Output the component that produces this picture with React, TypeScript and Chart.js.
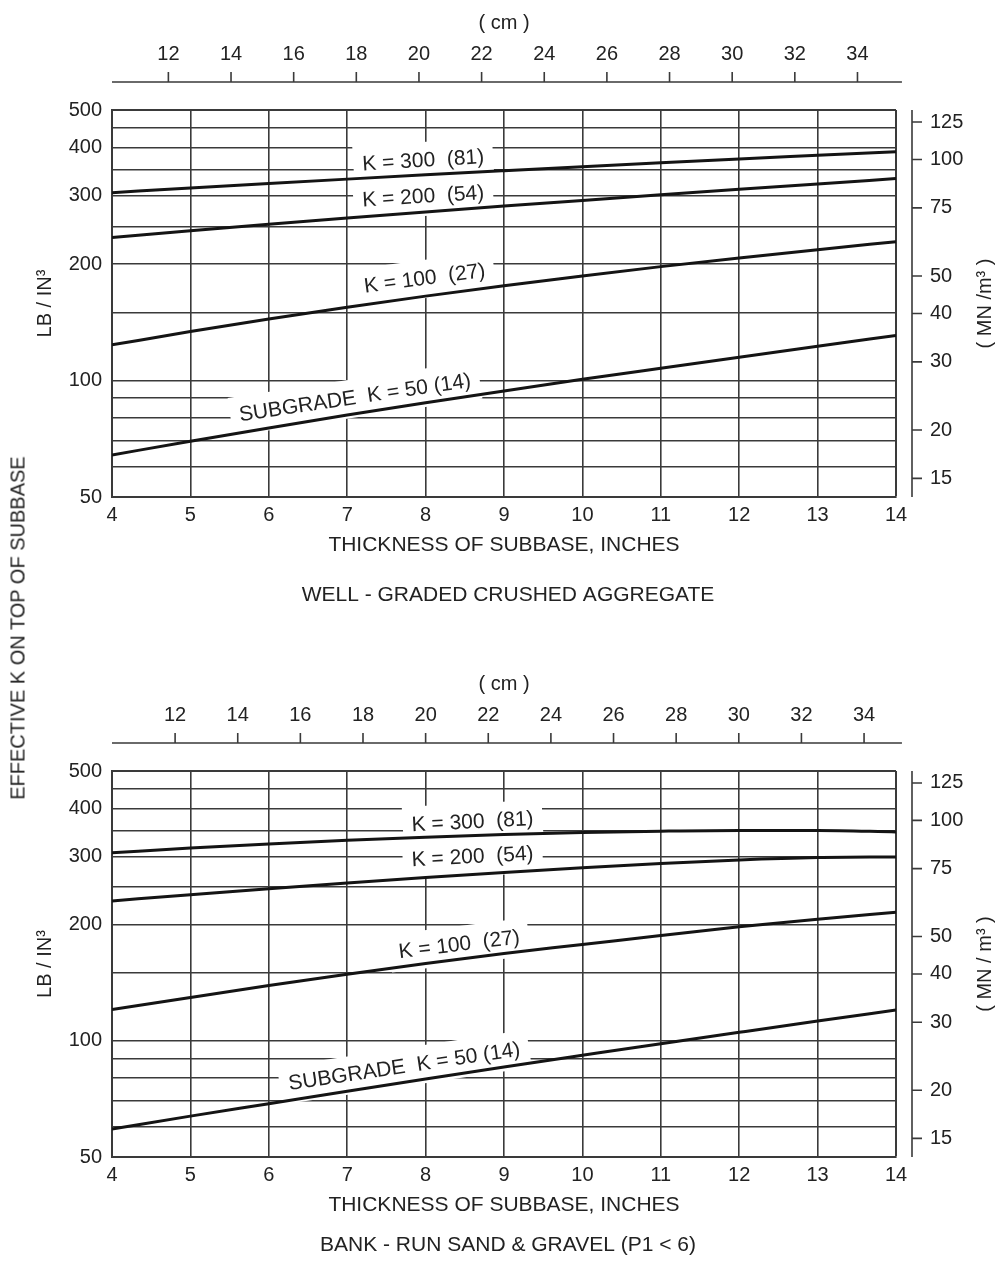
import React, { useEffect, useRef } from "react";
import { Chart, registerables } from "chart.js";

Chart.register(...registerables);

const FONT = "'Liberation Sans', Arial, Helvetica, sans-serif";
const INK = "#222";
const GRID = "#3a3a3a";
const CURVE = "#141414";

// ---- data ----
const thicknessIn = [4, 5, 6, 7, 8, 9, 10, 11, 12, 13, 14];

const wellK300 = [305.8, 314.3, 322.8, 331.4, 340.0, 348.4, 356.8, 365.2, 373.5, 381.8, 390.3];
const wellK200 = [234.0, 243.6, 253.2, 262.9, 272.6, 282.3, 292.0, 301.8, 311.8, 322.0, 332.4];
const wellK100 = [123.6, 133.8, 144.2, 154.7, 165.2, 175.8, 186.3, 196.9, 207.3, 217.8, 228.4];
const wellK50 = [64.2, 69.7, 75.4, 81.4, 87.6, 94.0, 100.7, 107.6, 114.9, 122.6, 130.7];

const bankK300 = [306.8, 315.7, 323.7, 330.7, 336.9, 342.2, 346.3, 349.2, 350.8, 350.8, 347.7];
const bankK200 = [230.4, 239.0, 247.8, 256.3, 264.7, 272.9, 280.8, 288.1, 294.2, 298.3, 299.5];
const bankK100 = [120.5, 129.5, 139.0, 148.8, 158.6, 168.4, 177.6, 187.5, 197.4, 206.6, 215.4];
const bankK50 = [59.1, 63.8, 68.7, 74.0, 79.6, 85.5, 91.7, 98.3, 105.2, 112.5, 120.1];

const curveNames = ["K = 300  (81)", "K = 200  (54)", "K = 100  (27)", "SUBGRADE  K = 50 (14)"];

const inchTicks = [4, 5, 6, 7, 8, 9, 10, 11, 12, 13, 14];
const cmTicks = [12, 14, 16, 18, 20, 22, 24, 26, 28, 30, 32, 34];
const lbTicks = [50, 60, 70, 80, 90, 100, 150, 200, 250, 300, 350, 400, 450, 500];
const lbLabels = [50, 100, 200, 300, 400, 500];
const mnTicks = [15, 20, 30, 40, 50, 75, 100, 125];
const MN_PER_PCI = 0.2685;

// label anchors (inches, lb/in3) and rotation (deg)
const wellLabelX = [7.97, 7.97, 7.99, 7.1];
const wellLabelY = [369, 298, 183, 90];
const wellLabelRot = [-3.5, -3.5, -7.5, -8.5];
const bankLabelX = [8.6, 8.6, 8.43, 7.73];
const bankLabelY = [368, 299, 177, 85.5];
const bankLabelRot = [-3, -3, -7, -8.5];

type PanelDef = {
  series: number[][];
  labelX: number[];
  labelY: number[];
  labelRot: number[];
  caption: string;
  rightTitle: string;
  cmMin: number;
  cmMax: number;
  cmEnd: number;
  height: number;
  plotTop: number;
  plotBottom: number;
  xTitlePad: number;
  cmTitlePad: number;
  captionY: number;
};

const well: PanelDef = {
  series: [wellK300, wellK200, wellK100, wellK50],
  labelX: wellLabelX,
  labelY: wellLabelY,
  labelRot: wellLabelRot,
  caption: "WELL - GRADED CRUSHED AGGREGATE",
  rightTitle: "( MN /m³ )",
  cmMin: 10.2,
  cmMax: 35.23,
  cmEnd: 35.42,
  height: 630,
  plotTop: 110,
  plotBottom: 497,
  xTitlePad: 72,
  cmTitlePad: 11,
  captionY: 595,
};

const bank: PanelDef = {
  series: [bankK300, bankK200, bankK100, bankK50],
  labelX: bankLabelX,
  labelY: bankLabelY,
  labelRot: bankLabelRot,
  caption: "BANK - RUN SAND & GRAVEL (P1 < 6)",
  rightTitle: "( MN / m³ )",
  cmMin: 9.985,
  cmMax: 35.02,
  cmEnd: 35.21,
  height: 634,
  plotTop: 141,
  plotBottom: 527,
  xTitlePad: 46,
  cmTitlePad: 42,
  captionY: 615,
};

const WIDTH = 997;
const PLOT_LEFT = 112;
const PLOT_RIGHT = 896;

function makeOverlay(p: PanelDef) {
  const drawLabels = (chart: any, mode: "bg" | "text") => {
    const { ctx } = chart;
    const xs = chart.scales.x;
    const ys = chart.scales.y;
    ctx.save();
    ctx.font = `21px ${FONT}`;
    curveNames.forEach((t, i) => {
      const px = xs.getPixelForValue(p.labelX[i]);
      const py = ys.getPixelForValue(p.labelY[i]);
      ctx.save();
      ctx.translate(px, py);
      ctx.rotate((p.labelRot[i] * Math.PI) / 180);
      if (mode === "bg") {
        const w = ctx.measureText(t).width;
        ctx.fillStyle = "#fff";
        ctx.fillRect(-w / 2 - 9, -19, w + 18, 38);
      } else {
        ctx.fillStyle = INK;
        ctx.textAlign = "center";
        ctx.textBaseline = "middle";
        ctx.fillText(t, 0, 0);
      }
      ctx.restore();
    });
    ctx.restore();
  };
  return {
    id: "overlay",
    beforeDatasetsDraw(chart: any) {
      drawLabels(chart, "bg");
    },
    afterDatasetsDraw(chart: any) {
      drawLabels(chart, "text");
    },
    afterDraw(chart: any) {
      const { ctx, chartArea } = chart;
      const xcm = chart.scales.xcm;
      const yr = chart.scales.yr;
      ctx.save();
      ctx.strokeStyle = GRID;
      ctx.lineWidth = 1.6;
      // cm axis line + ticks
      const yLine = chartArea.top - 28;
      ctx.beginPath();
      ctx.moveTo(xcm.getPixelForValue(p.cmMin), yLine);
      ctx.lineTo(xcm.getPixelForValue(p.cmEnd), yLine);
      cmTicks.forEach((c) => {
        const px = xcm.getPixelForValue(c);
        ctx.moveTo(px, yLine);
        ctx.lineTo(px, yLine - 10);
      });
      ctx.stroke();
      // right MN/m3 axis
      const xLine = chartArea.right + 16;
      ctx.beginPath();
      ctx.moveTo(xLine, chartArea.top);
      ctx.lineTo(xLine, chartArea.bottom);
      mnTicks.forEach((m) => {
        const py = yr.getPixelForValue(m);
        ctx.moveTo(xLine, py);
        ctx.lineTo(xLine + 10, py);
      });
      ctx.stroke();
      // right title
      ctx.fillStyle = INK;
      ctx.font = `20px ${FONT}`;
      ctx.textAlign = "center";
      ctx.textBaseline = "middle";
      ctx.save();
      ctx.translate(chartArea.right + 89, (chartArea.top + chartArea.bottom) / 2);
      ctx.rotate(-Math.PI / 2);
      ctx.fillText(p.rightTitle, 0, 0);
      ctx.restore();
      // caption
      ctx.font = `21px ${FONT}`;
      ctx.fillText(p.caption, (chartArea.left + chartArea.right) / 2 + 4, p.captionY);
      ctx.restore();
    },
  };
}

function makeConfig(p: PanelDef): any {
  const tickFont = { family: FONT, size: 20 };
  return {
    type: "line",
    data: {
      datasets: p.series.map((vals, i) => ({
        label: curveNames[i],
        data: thicknessIn.map((x, j) => ({ x, y: vals[j] })),
        borderColor: CURVE,
        borderWidth: 3,
        pointRadius: 0,
        cubicInterpolationMode: "monotone",
        fill: false,
        xAxisID: "x",
        yAxisID: "y",
      })),
    },
    plugins: [makeOverlay(p)],
    options: {
      animation: false,
      responsive: false,
      events: [],
      layout: { padding: 0 },
      plugins: {
        legend: { display: false },
        tooltip: { enabled: false },
        title: { display: false },
      },
      scales: {
        x: {
          type: "linear",
          position: "bottom",
          min: 4,
          max: 14,
          afterBuildTicks: (s: any) => {
            s.ticks = inchTicks.map((v) => ({ value: v }));
          },
          afterFit: (s: any) => {
            s.height = p.height - p.plotBottom;
          },
          grid: {
            color: GRID,
            lineWidth: (c: any) => (c.tick && c.tick.value === 14 ? 2 : 1.6),
            drawTicks: false,
          },
          border: { display: true, color: GRID, width: 2 },
          ticks: { font: tickFont, color: INK, padding: 6, autoSkip: false, maxRotation: 0 },
          title: {
            display: true,
            text: "THICKNESS OF SUBBASE, INCHES",
            font: { family: FONT, size: 21 },
            color: INK,
            padding: { top: 0, bottom: p.xTitlePad },
          },
        },
        xcm: {
          type: "linear",
          position: "top",
          min: p.cmMin,
          max: p.cmMax,
          afterBuildTicks: (s: any) => {
            s.ticks = cmTicks.map((v) => ({ value: v }));
          },
          afterFit: (s: any) => {
            s.height = p.plotTop;
          },
          grid: { display: false, drawTicks: false },
          border: { display: false },
          ticks: { font: tickFont, color: INK, padding: 44, autoSkip: false, maxRotation: 0 },
          title: {
            display: true,
            text: "( cm )",
            font: { family: FONT, size: 20 },
            color: INK,
            padding: { top: p.cmTitlePad, bottom: 0 },
          },
        },
        y: {
          type: "logarithmic",
          position: "left",
          min: 50,
          max: 500,
          afterBuildTicks: (s: any) => {
            s.ticks = lbTicks.map((v) => ({ value: v }));
          },
          afterFit: (s: any) => {
            s.width = PLOT_LEFT;
          },
          grid: {
            color: GRID,
            lineWidth: (c: any) => (c.tick && c.tick.value === 500 ? 2 : 1.6),
            drawTicks: false,
          },
          border: { display: true, color: GRID, width: 2 },
          ticks: {
            font: tickFont,
            color: INK,
            padding: 10,
            autoSkip: false,
            callback: (v: any) => (lbLabels.includes(Number(v)) ? String(v) : ""),
          },
          title: {
            display: true,
            text: "LB / IN³",
            font: { family: FONT, size: 20 },
            color: INK,
            padding: { top: 33, bottom: 0 },
          },
        },
        yr: {
          type: "logarithmic",
          position: "right",
          min: 50 * MN_PER_PCI,
          max: 500 * MN_PER_PCI,
          afterBuildTicks: (s: any) => {
            s.ticks = mnTicks.map((v) => ({ value: v }));
          },
          afterFit: (s: any) => {
            s.width = WIDTH - PLOT_RIGHT;
          },
          grid: { display: false, drawTicks: false },
          border: { display: false },
          ticks: {
            font: tickFont,
            color: INK,
            padding: 34,
            autoSkip: false,
            callback: (v: any) => String(v),
          },
        },
      },
    },
  };
}

function PanelChart({ panel }: { panel: PanelDef }) {
  const ref = useRef<HTMLCanvasElement | null>(null);
  useEffect(() => {
    if (!ref.current) return;
    const chart = new Chart(ref.current, makeConfig(panel));
    return () => chart.destroy();
  }, [panel]);
  return (
    <canvas
      ref={ref}
      width={WIDTH}
      height={panel.height}
      style={{ display: "block", width: WIDTH, height: panel.height }}
    />
  );
}

export default function App() {
  return (
    <div
      style={{
        position: "absolute",
        left: 0,
        top: 0,
        width: WIDTH,
        height: 1264,
        background: "#fff",
        fontFamily: FONT,
        overflow: "hidden",
      }}
    >
      <PanelChart panel={well} />
      <PanelChart panel={bank} />
      <div
        style={{
          position: "absolute",
          left: 18,
          top: 628,
          transform: "translate(-50%, -50%) rotate(-90deg)",
          whiteSpace: "nowrap",
          fontSize: 20,
          color: INK,
          fontFamily: FONT,
        }}
      >
        EFFECTIVE K ON TOP OF SUBBASE
      </div>
    </div>
  );
}
